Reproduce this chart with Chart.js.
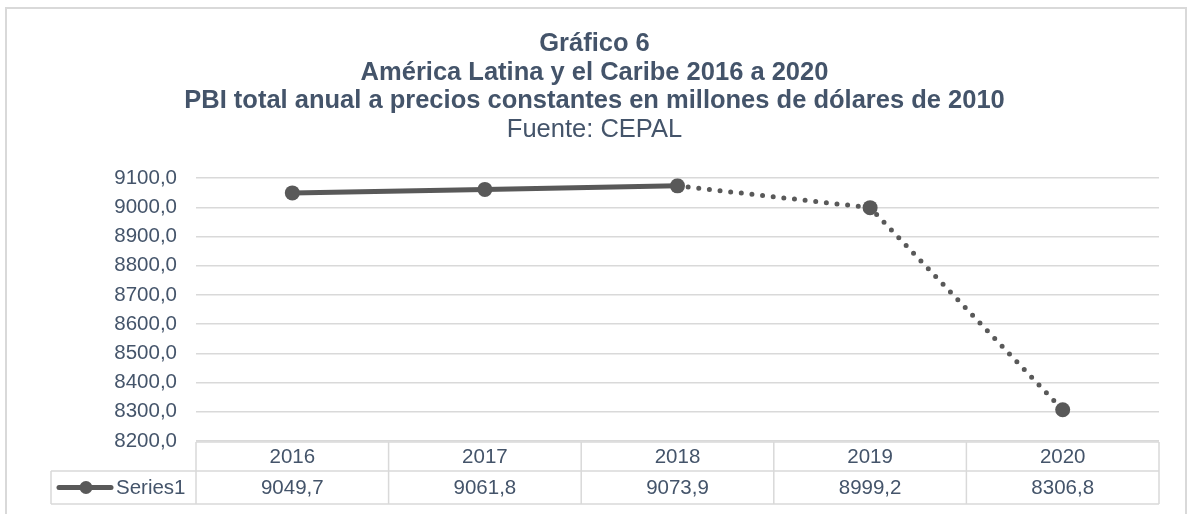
<!DOCTYPE html>
<html>
<head>
<meta charset="utf-8">
<script src="https://cdn.jsdelivr.net/npm/chart.js@4"></script>
<style>
  body { margin: 0; background: #fff; }
  #wrap { width: 1189px; height: 514px; }
</style>
</head>
<body>
<div id="wrap"><canvas id="pbi"></canvas></div>
<script>
const years = ['2016', '2017', '2018', '2019', '2020'];
const pbi = [9049.7, 9061.8, 9073.9, 8999.2, 8306.8];
const seriesName = 'Series1';
const titleLines = [
  'Gráfico 6',
  'América Latina y el Caribe 2016 a 2020',
  'PBI total anual a precios constantes en millones de dólares de 2010'
];
const source = 'Fuente: CEPAL';

const FONT = "'Liberation Sans', Arial, sans-serif";
const TEXT = '#44546A';
const LINE = '#595959';
const GRID = '#D9D9D9';

const fmt = v => v.toFixed(1).replace('.', ',');

// outer frame of the chart
const frame = {
  id: 'frame',
  beforeDraw(chart) {
    const c = chart.ctx;
    c.save();
    c.strokeStyle = GRID;
    c.lineWidth = 2;
    c.strokeRect(6, 8, 1180, 520);
    c.restore();
  }
};

// Excel-like data table under the plot
const dataTable = {
  id: 'dataTable',
  afterDraw(chart) {
    const c = chart.ctx;
    const x = chart.scales.x;
    const area = chart.chartArea;
    const n = years.length;
    const colW = (area.right - area.left) / n;
    const top = area.bottom + 1, mid = top + 29, bot = mid + 33;
    const keyLeft = 51;

    c.save();
    c.strokeStyle = GRID;
    c.lineWidth = 1.5;
    c.beginPath();
    c.moveTo(area.left, top); c.lineTo(area.right, top);
    c.moveTo(keyLeft, mid); c.lineTo(area.right, mid);
    c.moveTo(keyLeft, bot); c.lineTo(area.right, bot);
    for (let i = 0; i <= n; i++) {
      const bx = area.left + i * colW;
      c.moveTo(bx, top); c.lineTo(bx, bot);
    }
    c.moveTo(keyLeft, mid); c.lineTo(keyLeft, bot);
    c.stroke();

    c.fillStyle = TEXT;
    c.font = '20.5px ' + FONT;
    c.textAlign = 'center';
    c.textBaseline = 'middle';
    years.forEach((y, i) => {
      const cx = x.getPixelForValue(i);
      c.fillText(y, cx, (top + mid) / 2 + 1);
      c.fillText(fmt(pbi[i]), cx, (mid + bot) / 2 + 1);
    });

    // legend key
    const ky = (mid + bot) / 2;
    c.strokeStyle = LINE;
    c.lineWidth = 5;
    c.lineCap = 'round';
    c.beginPath();
    c.moveTo(59, ky); c.lineTo(111, ky);
    c.stroke();
    c.fillStyle = LINE;
    c.beginPath();
    c.arc(86, ky, 6.5, 0, Math.PI * 2);
    c.fill();
    c.fillStyle = TEXT;
    c.textAlign = 'left';
    c.fillText(seriesName, 116, ky + 1);
    c.restore();
  }
};

new Chart(document.getElementById('pbi'), {
  type: 'line',
  data: {
    labels: years,
    datasets: [{
      label: seriesName,
      data: pbi,
      borderColor: LINE,
      backgroundColor: LINE,
      borderWidth: 5,
      borderCapStyle: 'round',
      pointRadius: 7.5,
      pointHoverRadius: 7.5,
      pointBorderWidth: 0,
      tension: 0,
      segment: {
        borderDash: ctx => ctx.p0DataIndex >= 2 ? [0, 10.7] : undefined
      }
    }]
  },
  options: {
    responsive: true,
    maintainAspectRatio: false,
    animation: false,
    layout: { padding: { left: 30, right: 30, top: 0, bottom: 73 } },
    plugins: {
      legend: { display: false },
      tooltip: { enabled: false },
      title: {
        display: true,
        text: titleLines,
        color: TEXT,
        font: { family: FONT, size: 25.5, weight: 'bold', lineHeight: 1.12 },
        padding: { top: 30, bottom: 0 }
      },
      subtitle: {
        display: true,
        text: source,
        color: TEXT,
        font: { family: FONT, size: 25.5, weight: 'normal', lineHeight: 1.12 },
        padding: { top: 0, bottom: 34 }
      }
    },
    scales: {
      x: {
        display: false,
        offset: true
      },
      y: {
        min: 8200,
        max: 9100,
        ticks: {
          stepSize: 100,
          color: TEXT,
          padding: 19,
          font: { family: FONT, size: 20.5 },
          callback: v => fmt(v)
        },
        grid: { color: GRID, lineWidth: 1.5, drawTicks: false },
        border: { display: false },
        afterFit: s => { s.width = 166; }
      }
    }
  },
  plugins: [frame, dataTable]
});
</script>
</body>
</html>
